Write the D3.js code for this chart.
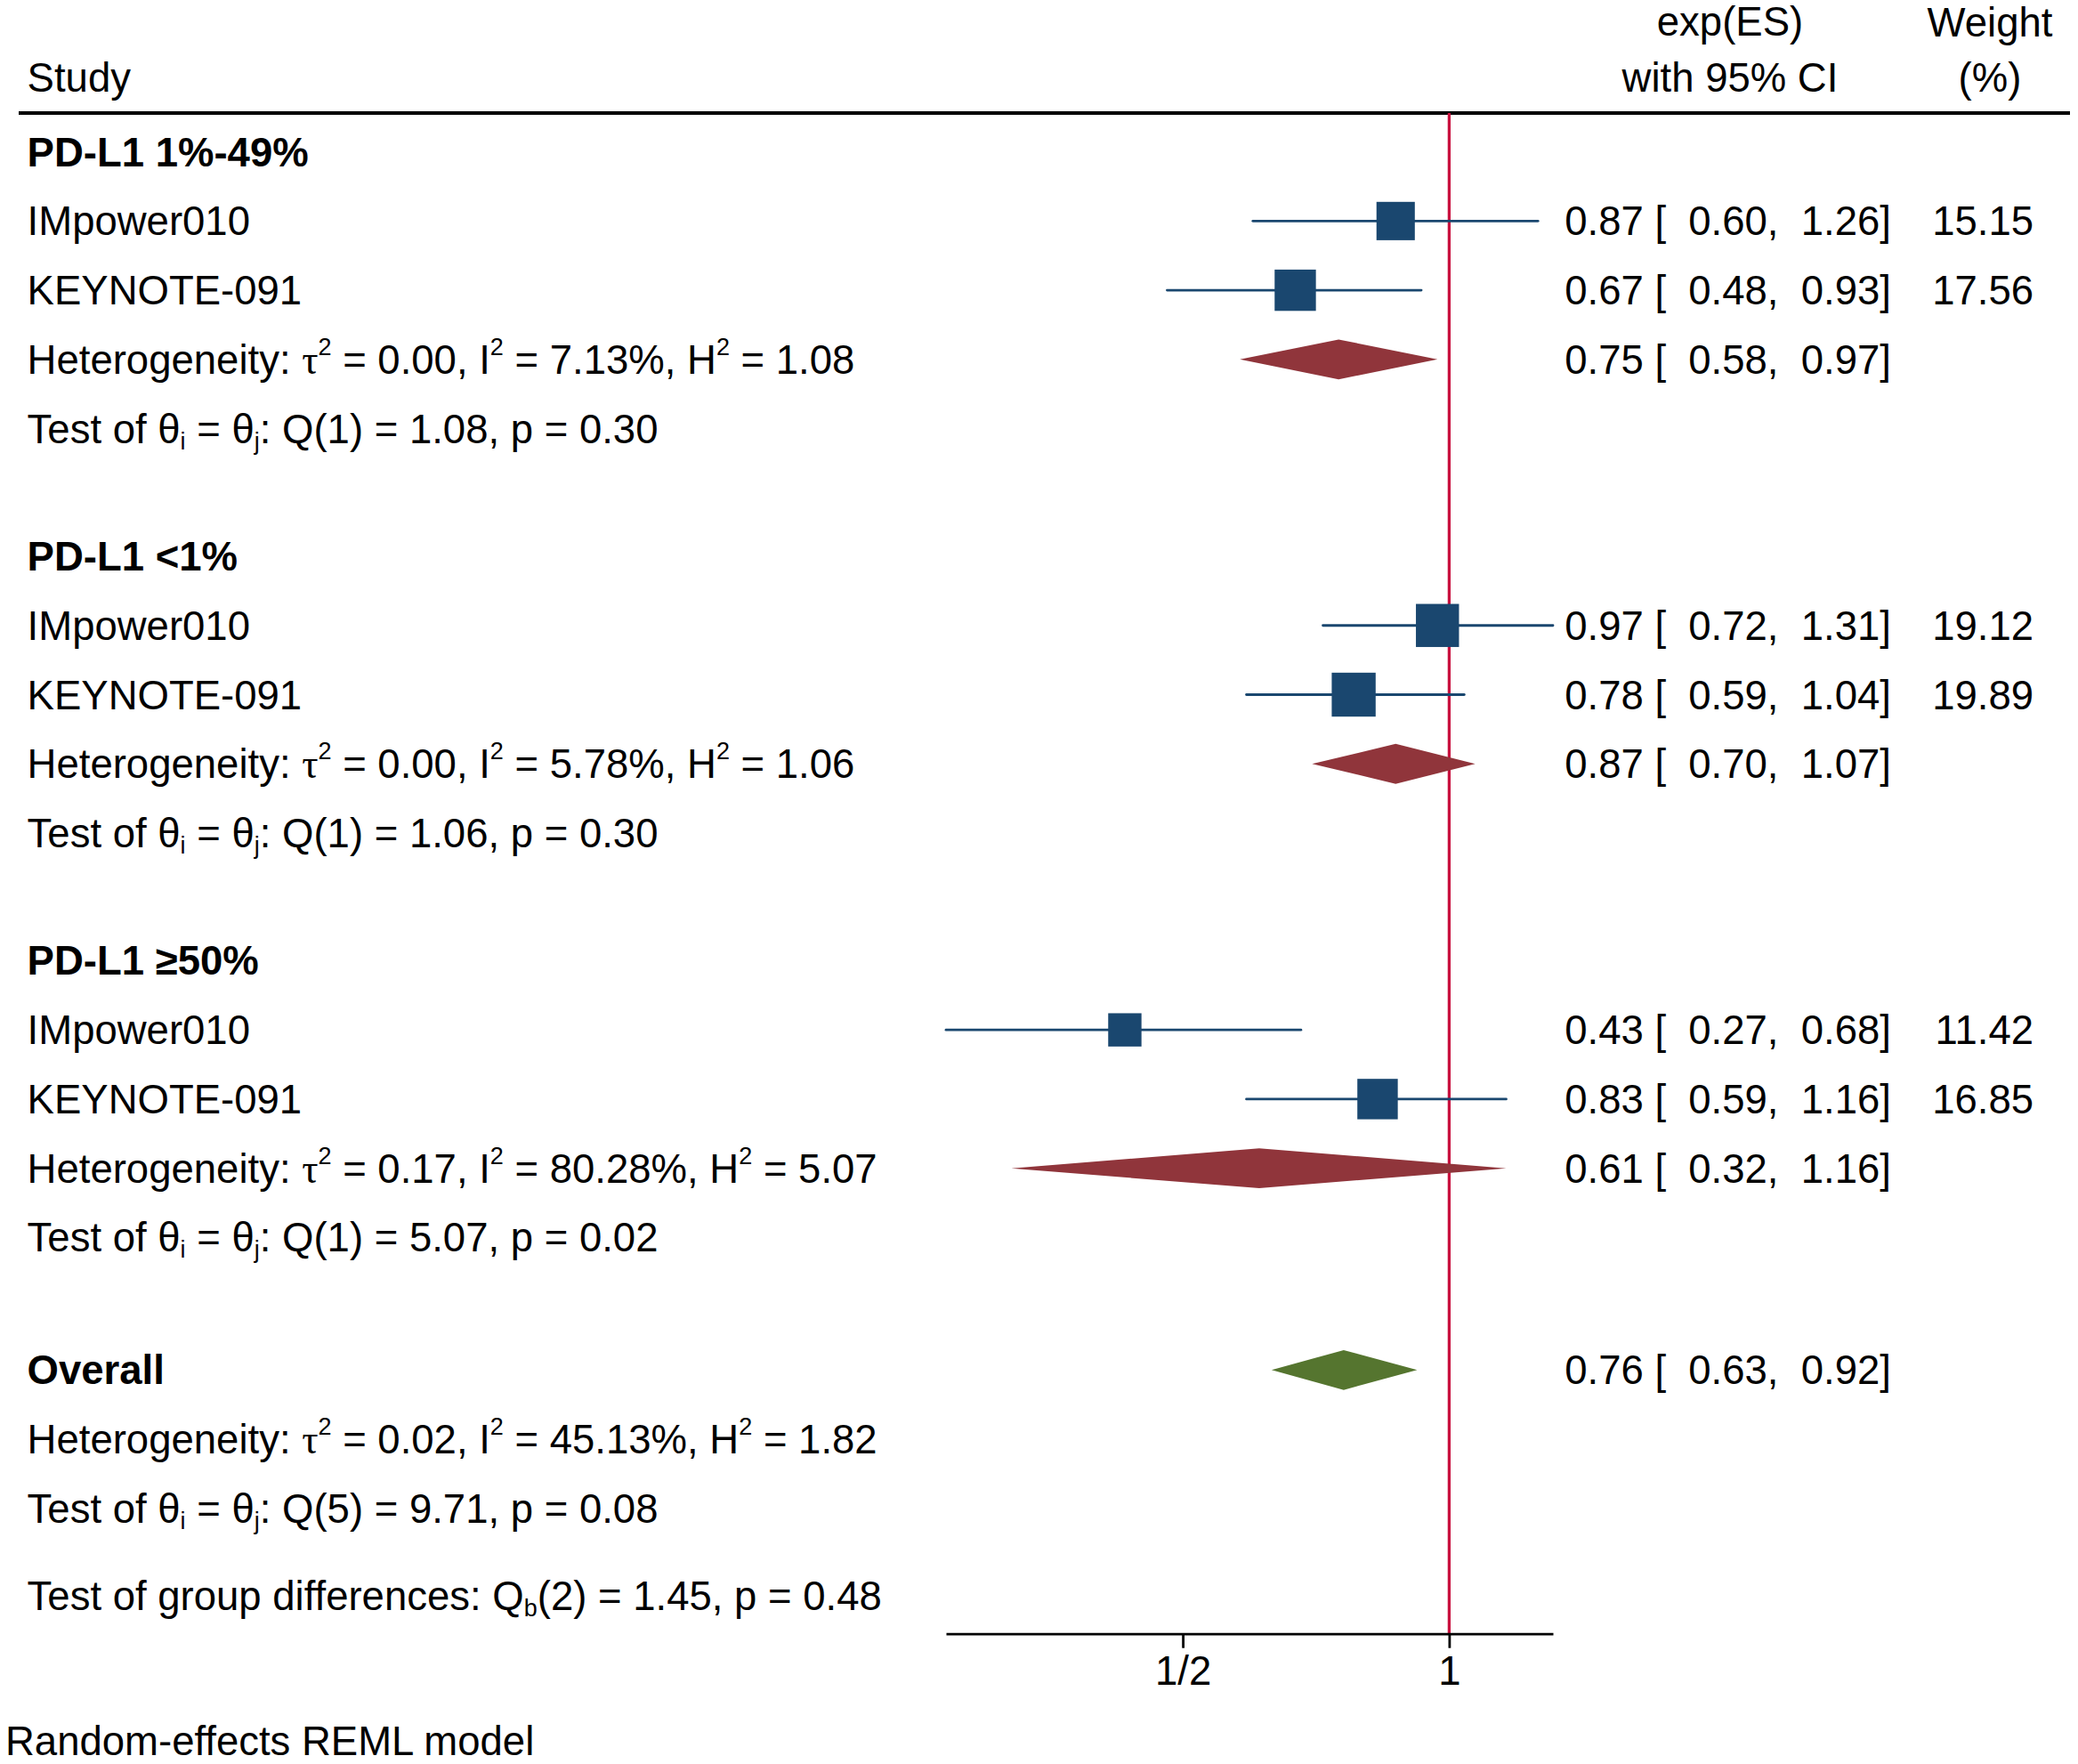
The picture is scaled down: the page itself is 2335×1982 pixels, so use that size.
<!DOCTYPE html>
<html>
<head>
<meta charset="utf-8">
<script src="https://cdn.jsdelivr.net/npm/d3@7"></script>
<style>
  html, body { margin: 0; padding: 0; background: #fff; }
  svg text { font-family: "Liberation Sans", Arial, Helvetica, sans-serif; fill: #000; }
</style>
</head>
<body>
<div class="forest"></div>
<script>
// subgroup data
const groups = ["PD-L1 1%-49%", "PD-L1 <1%", "PD-L1 \u226550%"];
const studies = ["IMpower010", "KEYNOTE-091"];

const studyEs = [[0.87, 0.67], [0.97, 0.78], [0.43, 0.83]];
const studyLo = [[0.60, 0.48], [0.72, 0.59], [0.27, 0.59]];
const studyHi = [[1.26, 0.93], [1.31, 1.04], [0.68, 1.16]];
const studyWeight = [[15.15, 17.56], [19.12, 19.89], [11.42, 16.85]];

const groupEs = [0.75, 0.87, 0.61];
const groupLo = [0.58, 0.70, 0.32];
const groupHi = [0.97, 1.07, 1.16];

const hetTau2 = ["0.00", "0.00", "0.17"];
const hetI2 = ["7.13", "5.78", "80.28"];
const hetH2 = ["1.08", "1.06", "5.07"];
const testDf = [1, 1, 1];
const testQ = ["1.08", "1.06", "5.07"];
const testP = ["0.30", "0.30", "0.02"];

const overallEs = 0.76;
const overallLo = 0.63;
const overallHi = 0.92;
const overallHet = ["0.02", "45.13", "1.82"];
const overallTest = [5, "9.71", "0.08"];
const groupDiff = [2, "1.45", "0.48"];

const tickValues = [0.5, 1];
const tickLabels = ["1/2", "1"];

const width = 2335;
const height = 1982;
const fontSize = 45.5;

const navy = "#1a476f";
const maroon = "#90353b";
const green = "#55752f";
const refColor = "#c8103e";

let svg = d3
  .select(".forest")
  .append("svg")
  .attr("width", width)
  .attr("height", height)
  .style("display", "block");

svg.append("rect").attr("width", width).attr("height", height).attr("fill", "#fff");

// log scale for exp(ES)
const allLo = d3.min(studyLo.flat());
const allHi = d3.max(studyHi.flat());
let x = d3.scaleLog().domain([allLo, allHi]).range([1063, 1745]);

let size = d3.scaleSqrt().domain([0, 20]).range([0, 49.5]);

// row layout
const rowStep = 77.75;
const firstRow = 170.6;
const groupStride = 454.4;
const overallRow = 1539.3;
const diffRow = 1793;
const axisY = 1835.7;
const ruleY = 127;
const textX = 30.6;
const esRight = 2125;
const wtRight = 2285;
const baseOff = 16;

let groupY = (k) => firstRow + k * groupStride;

// helper: text with sup / sub parts
let richText = (y, parts, opts = {}) => {
  let t = svg
    .append("text")
    .attr("x", opts.x || textX)
    .attr("y", y + baseOff)
    .attr("font-size", fontSize)
    .attr("font-weight", opts.bold ? "bold" : "normal")
    .attr("xml:space", "preserve");
  let shift = 0; // baseline shift still to undo
  parts.forEach((p) => {
    if (typeof p === "string") {
      t.append("tspan").attr("dy", -shift).text(p);
      shift = 0;
    } else if (p.sup) {
      t.append("tspan").attr("font-size", 27).attr("dy", -21 - shift).text(p.sup);
      shift = -21;
    } else if (p.sub) {
      t.append("tspan").attr("font-size", 27).attr("dy", 7 - shift).text(p.sub);
      shift = 7;
    } else if (p.greek) {
      t.append("tspan")
        .attr("dy", -shift)
        .style("font-family", "'Liberation Serif', 'Times New Roman', serif")
        .text(p.greek);
      shift = 0;
    }
  });
  return t;
};

let hetParts = (tau2, i2, h2) => [
  "Heterogeneity: ",
  { greek: "\u03c4" },
  { sup: "2" },
  " = " + tau2 + ", I",
  { sup: "2" },
  " = " + i2 + "%, H",
  { sup: "2" },
  " = " + h2,
];

let testParts = (df, q, p) => [
  "Test of \u03b8",
  { sub: "i" },
  " = \u03b8",
  { sub: "j" },
  ": Q(" + df + ") = " + q + ", p = " + p,
];

let esLabel = (es, lo, hi) =>
  es.toFixed(2) + " [  " + lo.toFixed(2) + ",  " + hi.toFixed(2) + "]";

let rightText = (y, str, xr) =>
  svg
    .append("text")
    .attr("x", xr)
    .attr("y", y + baseOff)
    .attr("font-size", fontSize)
    .attr("text-anchor", "end")
    .attr("xml:space", "preserve")
    .text(str);

let diamond = (y, es, lo, hi, color) =>
  svg
    .append("path")
    .attr(
      "d",
      `M${x(lo)},${y} L${x(es)},${y - 22.4} L${x(hi)},${y} L${x(es)},${y + 22.4} Z`
    )
    .attr("fill", color);

// header
svg.append("text").attr("x", textX).attr("y", 103).attr("font-size", fontSize).text("Study");
svg.append("text").attr("x", 1944).attr("y", 40).attr("font-size", fontSize).attr("text-anchor", "middle").text("exp(ES)");
svg.append("text").attr("x", 1944).attr("y", 103).attr("font-size", fontSize).attr("text-anchor", "middle").text("with 95% CI");
svg.append("text").attr("x", 2236).attr("y", 41).attr("font-size", fontSize).attr("text-anchor", "middle").text("Weight");
svg.append("text").attr("x", 2236).attr("y", 103).attr("font-size", fontSize).attr("text-anchor", "middle").text("(%)");

svg
  .append("line")
  .attr("x1", 21)
  .attr("x2", 2326)
  .attr("y1", ruleY)
  .attr("y2", ruleY)
  .attr("stroke", "#000")
  .attr("stroke-width", 4);

// reference line at 1
svg
  .append("line")
  .attr("x1", x(1))
  .attr("x2", x(1))
  .attr("y1", ruleY)
  .attr("y2", axisY)
  .attr("stroke", refColor)
  .attr("stroke-width", 3.3);

// subgroups
groups.forEach((g, k) => {
  const gy = groupY(k);
  richText(gy, [g], { bold: true });

  studies.forEach((s, j) => {
    const y = gy + (j + 1) * rowStep;
    richText(y, [s]);

    svg
      .append("line")
      .attr("x1", x(studyLo[k][j]))
      .attr("x2", x(studyHi[k][j]))
      .attr("y1", y)
      .attr("y2", y)
      .attr("stroke", navy)
      .attr("stroke-width", 2.8)
      .attr("stroke-linecap", "round");

    const side = size(studyWeight[k][j]);
    svg
      .append("rect")
      .attr("x", x(studyEs[k][j]) - side / 2)
      .attr("y", y - side / 2)
      .attr("width", side)
      .attr("height", side)
      .attr("fill", navy);

    rightText(y, esLabel(studyEs[k][j], studyLo[k][j], studyHi[k][j]), esRight);
    rightText(y, studyWeight[k][j].toFixed(2), wtRight);
  });

  const hy = gy + 3 * rowStep;
  richText(hy, hetParts(hetTau2[k], hetI2[k], hetH2[k]));
  diamond(hy, groupEs[k], groupLo[k], groupHi[k], maroon);
  rightText(hy, esLabel(groupEs[k], groupLo[k], groupHi[k]), esRight);

  richText(gy + 4 * rowStep, testParts(testDf[k], testQ[k], testP[k]));
});

// overall
richText(overallRow, ["Overall"], { bold: true });
diamond(overallRow, overallEs, overallLo, overallHi, green);
rightText(overallRow, esLabel(overallEs, overallLo, overallHi), esRight);
richText(overallRow + rowStep, hetParts(overallHet[0], overallHet[1], overallHet[2]));
richText(overallRow + 2 * rowStep, testParts(overallTest[0], overallTest[1], overallTest[2]));

richText(diffRow, [
  "Test of group differences: Q",
  { sub: "b" },
  "(" + groupDiff[0] + ") = " + groupDiff[1] + ", p = " + groupDiff[2],
]);

// x axis
let axis = d3
  .axisBottom(x)
  .tickValues(tickValues)
  .tickFormat((d, i) => tickLabels[i])
  .tickSize(16)
  .tickSizeOuter(0)
  .tickPadding(9);

let ax = svg.append("g").attr("transform", `translate(0,${axisY})`).call(axis);
ax.select(".domain").attr("stroke", "#000").attr("stroke-width", 2.8);
ax.selectAll(".tick line").attr("stroke", "#000").attr("stroke-width", 2.8);
ax.selectAll(".tick text")
  .attr("font-size", fontSize)
  .attr("font-family", "'Liberation Sans', Arial, sans-serif")
  .attr("fill", "#000");

svg
  .append("text")
  .attr("x", 6)
  .attr("y", 1972)
  .attr("font-size", fontSize)
  .text("Random-effects REML model");
</script>
</body>
</html>
